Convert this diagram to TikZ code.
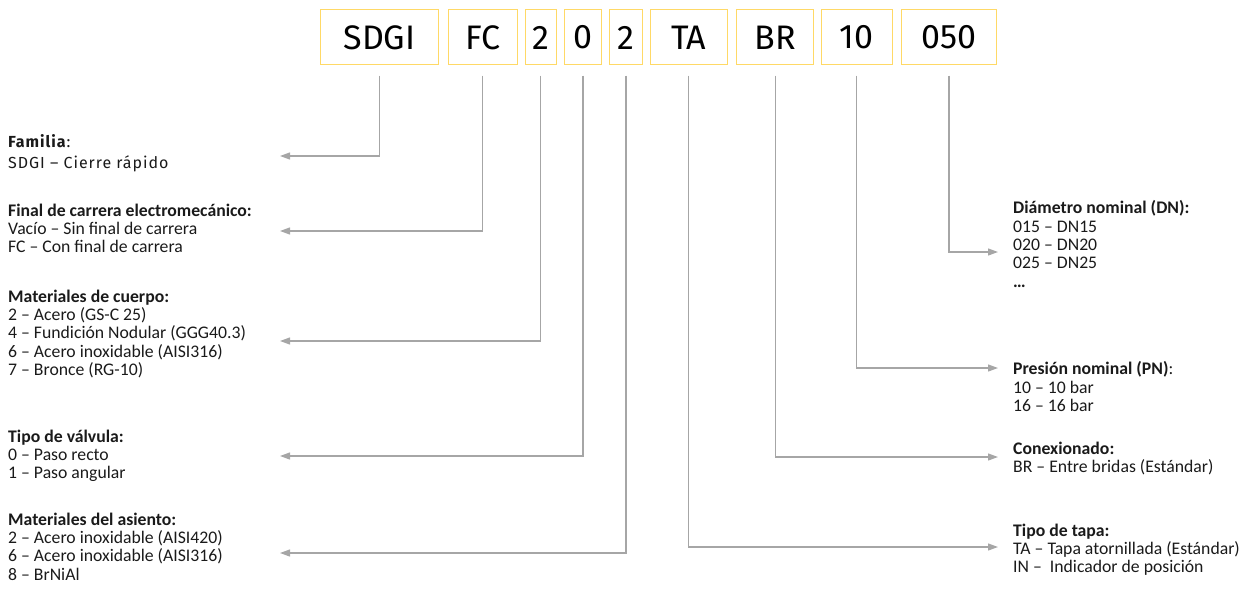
\documentclass[tikz,border=0pt]{standalone}
\usepackage{fontspec}
\setmainfont{Carlito}
\newfontfamily\boxfont{Fira Sans}
\newfontfamily\famfont[LetterSpace=6]{Fira Sans}
\usetikzlibrary{arrows.meta}
\definecolor{boxyellow}{HTML}{FFD966}
\definecolor{lineGray}{HTML}{A6A6A6}
\definecolor{txt}{HTML}{1A1A1A}
\tikzset{
  codebox/.style={draw=boxyellow, line width=1pt, minimum height=55pt, inner sep=0pt,
    font=\boxfont\fontsize{34}{38}\selectfont, text=black},
  conn/.style={draw=lineGray, line width=1.2pt, -{Triangle[length=10pt,width=7pt]}},
  desc/.style={anchor=north west, inner sep=0pt, align=left, text=txt,
    font=\fontsize{17.7}{18.3}\selectfont},
  famdesc/.style={anchor=north west, inner sep=0pt, align=left, text=txt,
    font=\famfont\fontsize{16}{21}\selectfont},
}
\begin{document}
\begin{tikzpicture}[x=1pt,y=-1pt]
\useasboundingbox (0,0) rectangle (1244,594);
% code boxes
\node[codebox, minimum width=117.6pt] (b1) at (379.5,37.5) {SDGI};
\node[codebox, minimum width=69pt]    (b2) at (482.8,37.5) {FC};
\node[codebox, minimum width=31.3pt]  (b3) at (540.7,37.5) {2};
\node[codebox, minimum width=37.4pt]  (b4) at (583,37.5) {0};
\node[codebox, minimum width=33.4pt]  (b5) at (626,37.5) {2};
\node[codebox, minimum width=77.3pt]  (b6) at (688.7,37.5) {TA};
\node[codebox, minimum width=77pt]    (b7) at (775.2,37.5) {BR};
\node[codebox, minimum width=71pt]    (b8) at (856.8,37.5) {10};
\node[codebox, minimum width=94.3pt]  (b9) at (948.9,37.5) {050};
% connector end points
\coordinate (e1) at (280,156);
\coordinate (e2) at (280,231);
\coordinate (e3) at (280,341);
\coordinate (e4) at (280,456);
\coordinate (e5) at (280,553);
\coordinate (e6) at (998,547);
\coordinate (e7) at (998,457);
\coordinate (e8) at (998,368);
\coordinate (e9) at (998,252);
\foreach \i in {1,...,9}{
  \draw[conn] ([yshift=-10pt]b\i.south) |- (e\i);
}
% left descriptions
\node[famdesc] (d1) at (8,134) {\textbf{Familia}:\\SDGI – Cierre rápido};
\node[desc] (d2) at (8,203.5) {\textbf{Final de carrera electromecánico:}\\Vacío – Sin final de carrera\\FC – Con final de carrera};
\node[desc] (d3) at (8,289.5) {\textbf{Materiales de cuerpo:}\\2 – Acero (GS-C 25)\\4 – Fundición Nodular (GGG40.3)\\6 – Acero inoxidable (AISI316)\\7 – Bronce (RG-10)};
\node[desc] (d4) at (8,429.5) {\textbf{Tipo de válvula:}\\0 – Paso recto\\1 – Paso angular};
\node[desc] (d5) at (8,512.5) {\textbf{Materiales del asiento:}\\2 – Acero inoxidable (AISI420)\\6 – Acero inoxidable (AISI316)\\8 – BrNiAl};
% right descriptions
\node[desc] (d9) at (1013,200.5) {\textbf{Diámetro nominal (DN):}\\015 – DN15\\020 – DN20\\025 – DN25\\\textbf{…}};
\node[desc] (d8) at (1013,361.5) {\textbf{Presión nominal (PN)}:\\10 – 10 bar\\16 – 16 bar};
\node[desc] (d7) at (1013,441.5) {\textbf{Conexionado:}\\BR – Entre bridas (Estándar)};
\node[desc] (d6) at (1013,523.5) {\textbf{Tipo de tapa:}\\TA – Tapa atornillada (Estándar)\\IN –\ \ Indicador de posición};
\end{tikzpicture}
\end{document}
